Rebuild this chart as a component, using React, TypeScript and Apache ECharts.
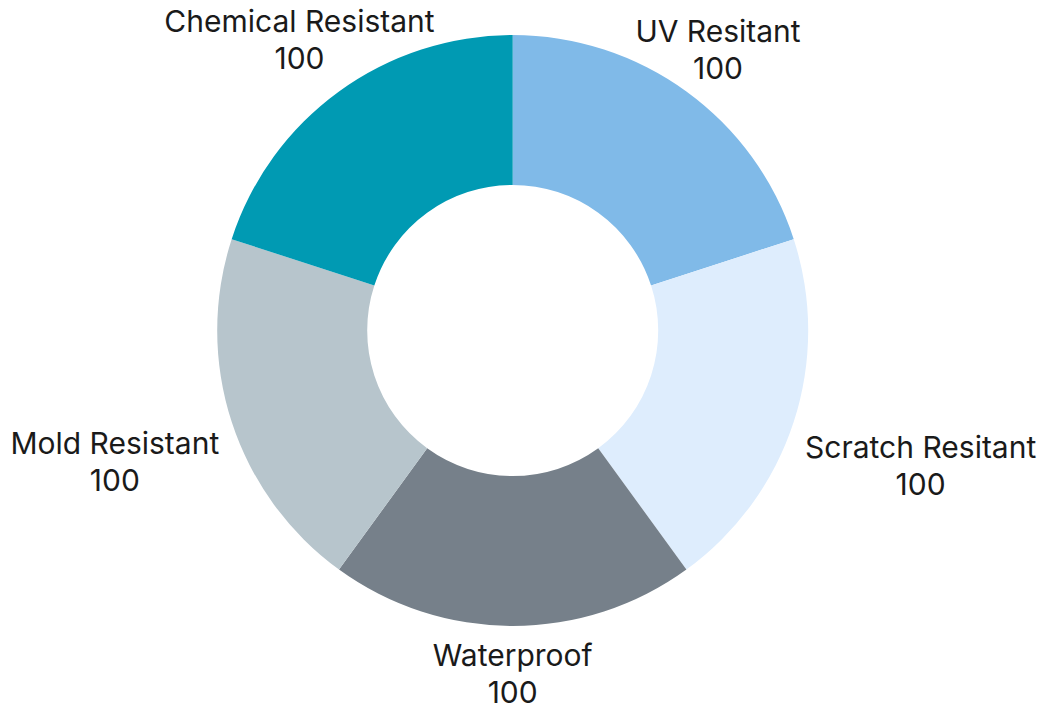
import React, { useEffect, useRef } from "react";
import * as echarts from "echarts";

const categories = [
  "UV Resitant",
  "Scratch Resitant",
  "Waterproof",
  "Mold Resistant",
  "Chemical Resistant",
];
const values = [100, 100, 100, 100, 100];
const colors = ["#80bae8", "#deedfd", "#76808a", "#b7c5cc", "#009ab3"];

const CX = 512.7;
const CY = 330.5;
const R_OUT = 295.5;
const R_IN = 145.5;
const GAP = 14;
const FONT_SIZE = 30;
const LINE_HEIGHT = 37;
const GLYPH_H = 25;
const TEXT_SHIFT_Y = 2;
const FONT = "Inter";

export default function App() {
  const ref = useRef<HTMLDivElement>(null);
  useEffect(() => {
    if (!ref.current) return;
    const chart = echarts.init(ref.current, null, { renderer: "svg" });
    const total = values.reduce((a, b) => a + b, 0);
    const midAngles: number[] = [];
    let acc = 0;
    values.forEach((v) => {
      const mid = acc + v / 2;
      midAngles.push(((90 - (mid / total) * 360) * Math.PI) / 180);
      acc += v;
    });
    const ctx = document.createElement("canvas").getContext("2d")!;
    ctx.font = `${FONT_SIZE}px ${FONT}`;
    const lineWidths = categories.map((c, i) => [
      ctx.measureText(c).width,
      ctx.measureText(String(values[i])).width,
    ]);

    const distRect = (x0: number, y0: number, x1: number, y1: number) => {
      const dx = Math.max(x0 - CX, 0, CX - x1);
      const dy = Math.max(y0 - CY, 0, CY - y1);
      return Math.sqrt(dx * dx + dy * dy);
    };

    const place = (idx: number) => {
      const a = midAngles[idx];
      const cos = Math.cos(a);
      const sin = -Math.sin(a);
      const widths = lineWidths[idx];
      const n = widths.length;
      const minDist = (r: number) => {
        const lx = CX + r * cos;
        const ly = CY + r * sin;
        let m = Infinity;
        for (let k = 0; k < n; k++) {
          const yc = ly + (k - (n - 1) / 2) * LINE_HEIGHT;
          const w = widths[k];
          m = Math.min(
            m,
            distRect(lx - w / 2, yc - GLYPH_H / 2, lx + w / 2, yc + GLYPH_H / 2)
          );
        }
        return m;
      };
      let lo = R_OUT;
      let hi = R_OUT + 400;
      for (let it = 0; it < 60; it++) {
        const mid = (lo + hi) / 2;
        if (minDist(mid) < R_OUT + GAP) lo = mid;
        else hi = mid;
      }
      return { x: CX + hi * cos, y: CY + hi * sin + TEXT_SHIFT_Y };
    };

    chart.setOption({
      animation: false,
      backgroundColor: "#ffffff",
      series: [
        {
          type: "pie",
          center: [CX, CY],
          radius: [R_IN, R_OUT],
          startAngle: 90,
          clockwise: true,
          avoidLabelOverlap: false,
          data: categories.map((name, i) => ({
            name,
            value: values[i],
            itemStyle: { color: colors[i] },
          })),
          label: {
            show: true,
            position: "outside",
            formatter: "{b}\n{c}",
            fontFamily: FONT,
            fontSize: FONT_SIZE,
            lineHeight: LINE_HEIGHT,
            color: "#1a1a1a",
          },
          labelLine: { show: false },
          emphasis: { disabled: true },
          labelLayout: (params: any) => {
            const p = place(params.dataIndex);
            return {
              x: p.x,
              y: p.y,
              align: "center",
              verticalAlign: "middle",
            };
          },
        },
      ],
    });
    return () => chart.dispose();
  }, []);
  return (
    <div
      ref={ref}
      style={{ position: "absolute", left: 0, top: 0, width: 1047, height: 714 }}
    />
  );
}
